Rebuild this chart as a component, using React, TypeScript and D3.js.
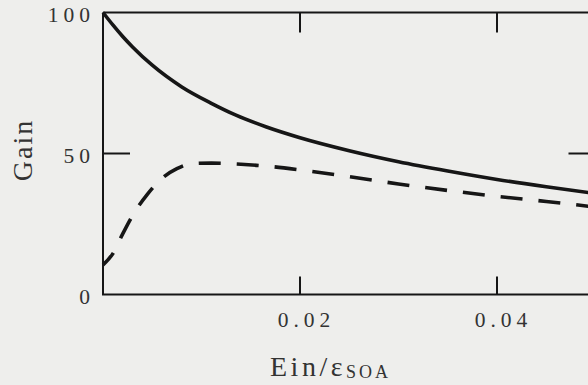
import React from "react";
import * as d3 from "d3";

// x values (Ein / ε_SOA) and gain for each curve
const solidX = [0, 0.001, 0.002, 0.003, 0.005, 0.008, 0.011, 0.0135, 0.0166, 0.02, 0.025, 0.03, 0.035, 0.04, 0.045, 0.05];
const solidGain = [100, 95.6, 91.5, 87.8, 81.3, 73.6, 67.8, 63.6, 59.4, 55.6, 51.0, 47.1, 43.8, 40.8, 38.2, 35.8];

const dashedX = [0, 0.001, 0.002, 0.003, 0.0045, 0.006, 0.0075, 0.009, 0.011, 0.014, 0.017, 0.02, 0.025, 0.03, 0.035, 0.04, 0.045, 0.05];
const dashedGain = [10.5, 14.5, 21.5, 28, 35.5, 41.2, 44.6, 46.4, 46.6, 46.2, 45.4, 44.2, 41.8, 39.2, 36.9, 34.8, 33.0, 31.0];

const xTicks = [0.02, 0.04];
const xTickLabels = ["0.02", "0.04"];
const yTicks = [0, 50, 100];
const yTickLabels = ["0", "50", "100"];
const yInnerTicks = [50];

const W = 588;
const H = 385;
const FONT = "'Liberation Serif', 'DejaVu Serif', serif";
const INK = "#161616";

export default function App() {
  const x = d3.scaleLinear().domain([0, 0.05]).range([103, 595.5]);
  const y = d3.scaleLinear().domain([0, 100]).range([294.5, 12.5]);

  const line = d3
    .line<[number, number]>()
    .x((d) => x(d[0]))
    .y((d) => y(d[1]))
    .curve(d3.curveMonotoneX);

  const solidPts: [number, number][] = solidX.map((v, i) => [v, solidGain[i]]);
  const dashedPts: [number, number][] = dashedX.map((v, i) => [v, dashedGain[i]]);

  const [x0, x1] = x.range();
  const [yb, yt] = y.range();
  const tickLs = 5;

  return (
    <div style={{ position: "fixed", left: 0, top: 0, width: W, height: H }}>
      <svg width={W} height={H} style={{ display: "block" }}>
        <rect x={0} y={0} width={W} height={H} fill="#eeeeec" />
        {/* frame */}
        <line x1={x0} y1={yt} x2={x0} y2={yb} stroke={INK} strokeWidth={2} />
        <line x1={x0} y1={yt} x2={x1} y2={yt} stroke={INK} strokeWidth={2} />
        <line x1={x0 - 1} y1={yb} x2={x1} y2={yb} stroke={INK} strokeWidth={2.2} />
        <line x1={x1} y1={yt} x2={x1} y2={yb} stroke={INK} strokeWidth={2} />

        {/* x ticks (bottom and top, inward) */}
        {xTicks.map((t) => (
          <g key={"xt" + t}>
            <line x1={x(t)} y1={yb} x2={x(t)} y2={yb - 18} stroke={INK} strokeWidth={2} />
            <line x1={x(t)} y1={yt} x2={x(t)} y2={yt + 20} stroke={INK} strokeWidth={2} />
          </g>
        ))}
        {/* y ticks (left and right, inward) */}
        {yInnerTicks.map((t) => (
          <g key={"yt" + t}>
            <line x1={x0} y1={y(t)} x2={x0 + 27} y2={y(t)} stroke={INK} strokeWidth={2} />
            <line x1={x1} y1={y(t)} x2={x1 - 27} y2={y(t)} stroke={INK} strokeWidth={2} />
          </g>
        ))}

        {/* tick labels */}
        {xTicks.map((t, i) => (
          <text
            key={"xl" + t}
            x={x(t) + 4 + tickLs / 2}
            y={327}
            textAnchor="middle"
            fontFamily={FONT}
            fontSize={21.5}
            letterSpacing={tickLs}
            fill="#333"
          >
            {xTickLabels[i]}
          </text>
        ))}
        {yTicks.map((t, i) => (
          <text
            key={"yl" + t}
            x={90 + tickLs}
            y={y(t) + 9}
            textAnchor="end"
            fontFamily={FONT}
            fontSize={21.5}
            letterSpacing={tickLs}
            fill="#333"
          >
            {yTickLabels[i]}
          </text>
        ))}

        {/* curves */}
        <path d={line(solidPts) ?? ""} fill="none" stroke={INK} strokeWidth={3.6} strokeLinejoin="round" />
        <path
          d={line(dashedPts) ?? ""}
          fill="none"
          stroke={INK}
          strokeWidth={3.6}
          strokeDasharray="22 16"
          strokeDashoffset={6}
        />

        {/* axis titles */}
        <text x={270} y={376} fontFamily={FONT} fontSize={28} letterSpacing={3.5} fill="#333">
          Ein/ε
          <tspan fontSize={18} dy={1.5} letterSpacing={3}>
            SOA
          </tspan>
        </text>
        <text
          transform="translate(32,150) rotate(-90)"
          textAnchor="middle"
          fontFamily={FONT}
          fontSize={28}
          letterSpacing={2}
          fill="#333"
        >
          Gain
        </text>
      </svg>
    </div>
  );
}
